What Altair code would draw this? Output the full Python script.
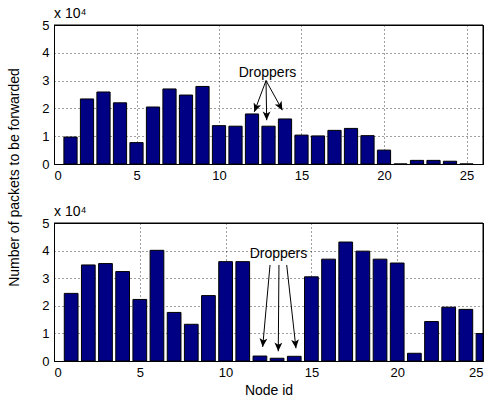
import math
import altair as alt
import pandas as pd

# ---------------- data ----------------
nodes = list(range(1, 26))
top_vals = [9700, 23400, 25900, 22000, 7700, 20500, 27000, 24800, 27900, 13800,
            13600, 18000, 13600, 16200, 10400, 10100, 12100, 12800, 10200, 5000,
            0, 1300, 1300, 1000, 0]
bottom_vals = [24500, 34800, 35300, 32400, 22300, 40100, 17600, 13300, 23700, 36000,
               36000, 1800, 1000, 1700, 30500, 36900, 43100, 39800, 36900, 35500,
               2800, 14300, 19500, 18700, 9950]
x_ticks = [0, 5, 10, 15, 20, 25]
y_ticks = [0, 10000, 20000, 30000, 40000, 50000]
Y_MAX = 50000

# "Droppers" annotation, in data units
top_label = {"x": 12.94, "y": 31300}
top_arrow_x0 = [12.85, 12.85, 12.85]
top_arrow_y0 = [30000, 30000, 30000]
top_arrow_x1 = [12.14, 12.89, 13.84]
top_arrow_y1 = [18750, 15750, 19360]

bot_label = {"x": 13.08, "y": 37500}
bot_arrow_x0 = [12.59, 13.11, 13.56]
bot_arrow_y0 = [34800, 34800, 34800]
bot_arrow_x1 = [12.16, 13.07, 14.10]
bot_arrow_y1 = [5100, 3530, 4620]

# ---------------- style ----------------
FONT = "Liberation Sans"
FS_TICK = 13
FS = 14
BAR_COLOR = "#000085"
BAR_W = 0.8
W = 429
ARROW_PATH = "M0,0 L-0.45,-1 L0,-0.75 L0.45,-1 Z"

common_axis = dict(
    grid=True, gridColor="black", gridDash=[1, 3], gridOpacity=0.75, gridWidth=1,
    domain=True, domainColor="black", domainWidth=1, ticks=False,
    labelFont=FONT, labelFontSize=FS_TICK, labelColor="black", labelPadding=5,
    labelOverlap=False, titleFont=FONT, titleFontSize=FS,
    titleFontWeight="normal", titleColor="black",
)


def panel(vals, xmax, height, label, ax0, ay0, ax1, ay1, ytitle, xtitle):
    df = pd.DataFrame({"node": nodes, "value": vals})
    df["x0"] = df["node"] - BAR_W / 2
    df["x1"] = df["node"] + BAR_W / 2
    sx = W / xmax
    sy = height / float(Y_MAX)
    ang = []
    for a, b, c, d in zip(ax0, ay0, ax1, ay1):
        ang.append(math.degrees(math.atan2(-(c - a) * sx, (b - d) * sy)) % 360)
    arr = pd.DataFrame({"x0": ax0, "y0": ay0, "x1": ax1, "y1": ay1, "ang": ang})
    lab = pd.DataFrame({"x": [label["x"]], "y": [label["y"]], "t": ["Droppers"]})
    frame = pd.DataFrame({"xr": [xmax], "yt": [Y_MAX]})

    xscale = alt.Scale(domain=[0, xmax], nice=False, zero=False)
    yscale = alt.Scale(domain=[0, Y_MAX], nice=False)

    yk = dict(common_axis, values=y_ticks, labelExpr="datum.value / 10000")
    if ytitle:
        yk.update(title=ytitle, titleX=-40, titleY=152, titleAngle=270,
                  titleAlign="center", titleBaseline="middle")
    else:
        yk.update(title=None)
    xk = dict(common_axis, values=x_ticks, format="d")
    if xtitle:
        xk.update(title=xtitle, titlePadding=4)
    else:
        xk.update(title=None)
    xaxis = alt.Axis(**xk)
    yaxis = alt.Axis(**yk)

    bars = alt.Chart(df).mark_bar(color=BAR_COLOR, stroke="black", strokeWidth=1,
                                  clip=True).encode(
        x=alt.X("x0:Q", scale=xscale, axis=xaxis), x2="x1:Q",
        y=alt.Y("value:Q", scale=yscale, axis=yaxis), y2=alt.datum(0))
    rules = alt.Chart(arr).mark_rule(color="black", strokeWidth=1).encode(
        x=alt.X("x0:Q", scale=xscale, axis=xaxis), x2="x1:Q",
        y=alt.Y("y0:Q", scale=yscale, axis=yaxis), y2="y1:Q")
    heads = alt.Chart(arr).mark_point(shape=ARROW_PATH, filled=True, color="black",
                                      size=300, opacity=1).encode(
        x=alt.X("x1:Q", scale=xscale, axis=xaxis),
        y=alt.Y("y1:Q", scale=yscale, axis=yaxis),
        angle=alt.Angle("ang:Q", scale=None))
    text = alt.Chart(lab).mark_text(font=FONT, fontSize=FS, baseline="alphabetic",
                                    align="center", color="black").encode(
        x=alt.X("x:Q", scale=xscale, axis=xaxis),
        y=alt.Y("y:Q", scale=yscale, axis=yaxis),
        text="t:N")
    # top and right edges of the box
    top_edge = alt.Chart(frame).mark_rule(color="black", strokeWidth=1).encode(
        y=alt.Y("yt:Q", scale=yscale, axis=yaxis))
    right_edge = alt.Chart(frame).mark_rule(color="black", strokeWidth=1).encode(
        x=alt.X("xr:Q", scale=xscale, axis=xaxis))
    return alt.layer(bars, rules, heads, text, top_edge, right_edge).properties(
        width=W, height=height,
        title=alt.TitleParams("x 10\u2074", anchor="start", frame="group",
                              fontSize=FS, fontWeight="normal", font=FONT,
                              baseline="alphabetic", offset=0, dy=13, color="black"))


top = panel(top_vals, 26, 139, top_label, top_arrow_x0, top_arrow_y0,
            top_arrow_x1, top_arrow_y1, "Number of packets to be forwarded", None)
bottom = panel(bottom_vals, 25, 138, bot_label, bot_arrow_x0, bot_arrow_y0,
               bot_arrow_x1, bot_arrow_y1, None, "Node id")

chart = alt.vconcat(top, bottom, spacing=59, bounds="flush").properties(
    padding={"left": 6, "top": 6, "right": 5, "bottom": 5}
).configure_view(stroke="black", strokeWidth=1)

chart.save("out.html", embed_options={"renderer": "svg", "actions": False})
